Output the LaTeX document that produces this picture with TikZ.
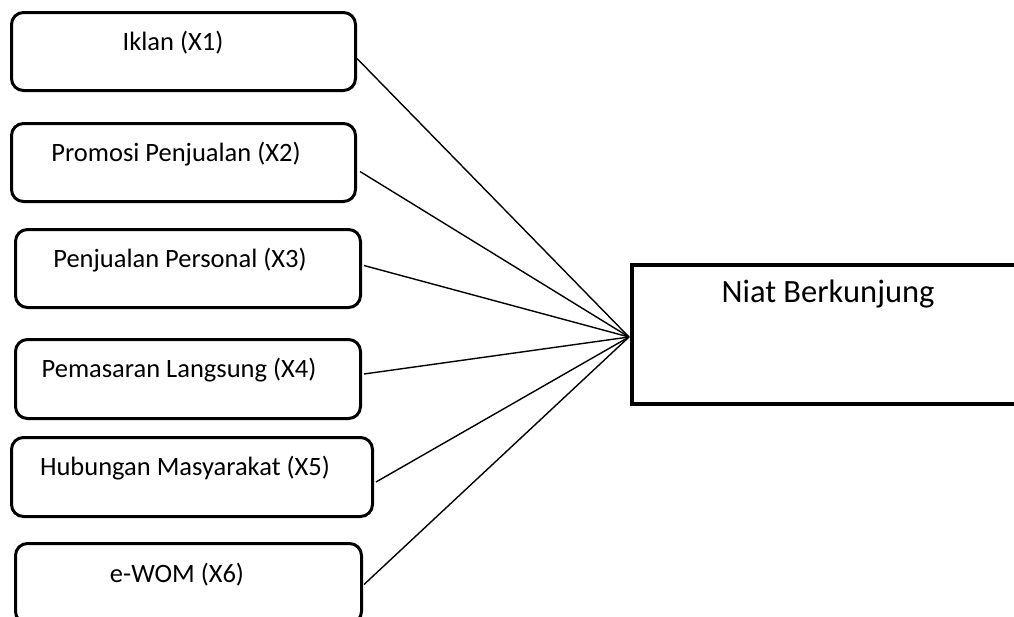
\documentclass[tikz,border=0pt]{standalone}
\usepackage{fontspec}
\setmainfont{Carlito}
\begin{document}
\begin{tikzpicture}[x=1pt,y=-1pt,
  varbox/.style={draw, line width=3pt, rounded corners=12pt, minimum width=#1, inner sep=0pt, anchor=north west},
  lbl/.style={font=\fontsize{26.5}{31}\selectfont, inner sep=0pt},
  conn/.style={line width=1.4pt}]
\path[use as bounding box] (0,0) rectangle (1014,616);
\clip (0,0) rectangle (1014,616);
\fill[white] (0,0) rectangle (1014,616);
% independent variables
\node[varbox=344pt, minimum height=78pt] (b1) at (10,11) {};
\node[varbox=344pt, minimum height=78pt] (b2) at (10,122) {};
\node[varbox=345pt, minimum height=78pt] (b3) at (14,228) {};
\node[varbox=345pt, minimum height=79pt] (b4) at (14,338) {};
\node[varbox=361pt, minimum height=79pt] (b5) at (10,436) {};
\node[varbox=346pt, minimum height=80pt] (b6) at (14,542) {};
\node[lbl] (t1) at (173,43) {Iklan (X1)};
\node[lbl] (t2) at (176,154) {Promosi Penjualan (X2)};
\node[lbl] (t3) at (180,260) {Penjualan Personal (X3)};
\node[lbl] (t4) at (179,370) {Pemasaran Langsung (X4)};
\node[lbl] (t5) at (185,468) {Hubungan Masyarakat (X5)};
\node[lbl] (t6) at (177,575) {e-WOM (X6)};
% dependent variable
\node[draw, line width=3.5pt, minimum width=400pt, minimum height=139pt, inner sep=0pt, anchor=north west] (y) at (630,263) {};
\node[font=\fontsize{32.5}{38}\selectfont, inner sep=0pt] (ty) at (828,294) {Niat Berkunjung};
\coordinate (c) at (629,337);
% connectors
\draw[conn] ([yshift=-7pt]b1.east) -- (c);
\draw[conn] ([xshift=3pt,yshift=-9pt]b2.east) -- (c);
\draw[conn] ([xshift=2pt,yshift=3pt]b3.east) -- (c);
\draw[conn] ([xshift=2pt,yshift=5pt]b4.east) -- (c);
\draw[conn] ([xshift=2pt,yshift=-5pt]b5.east) -- (c);
\draw[conn] ([xshift=1pt,yshift=-1pt]b6.east) -- (c);
\end{tikzpicture}
\end{document}
